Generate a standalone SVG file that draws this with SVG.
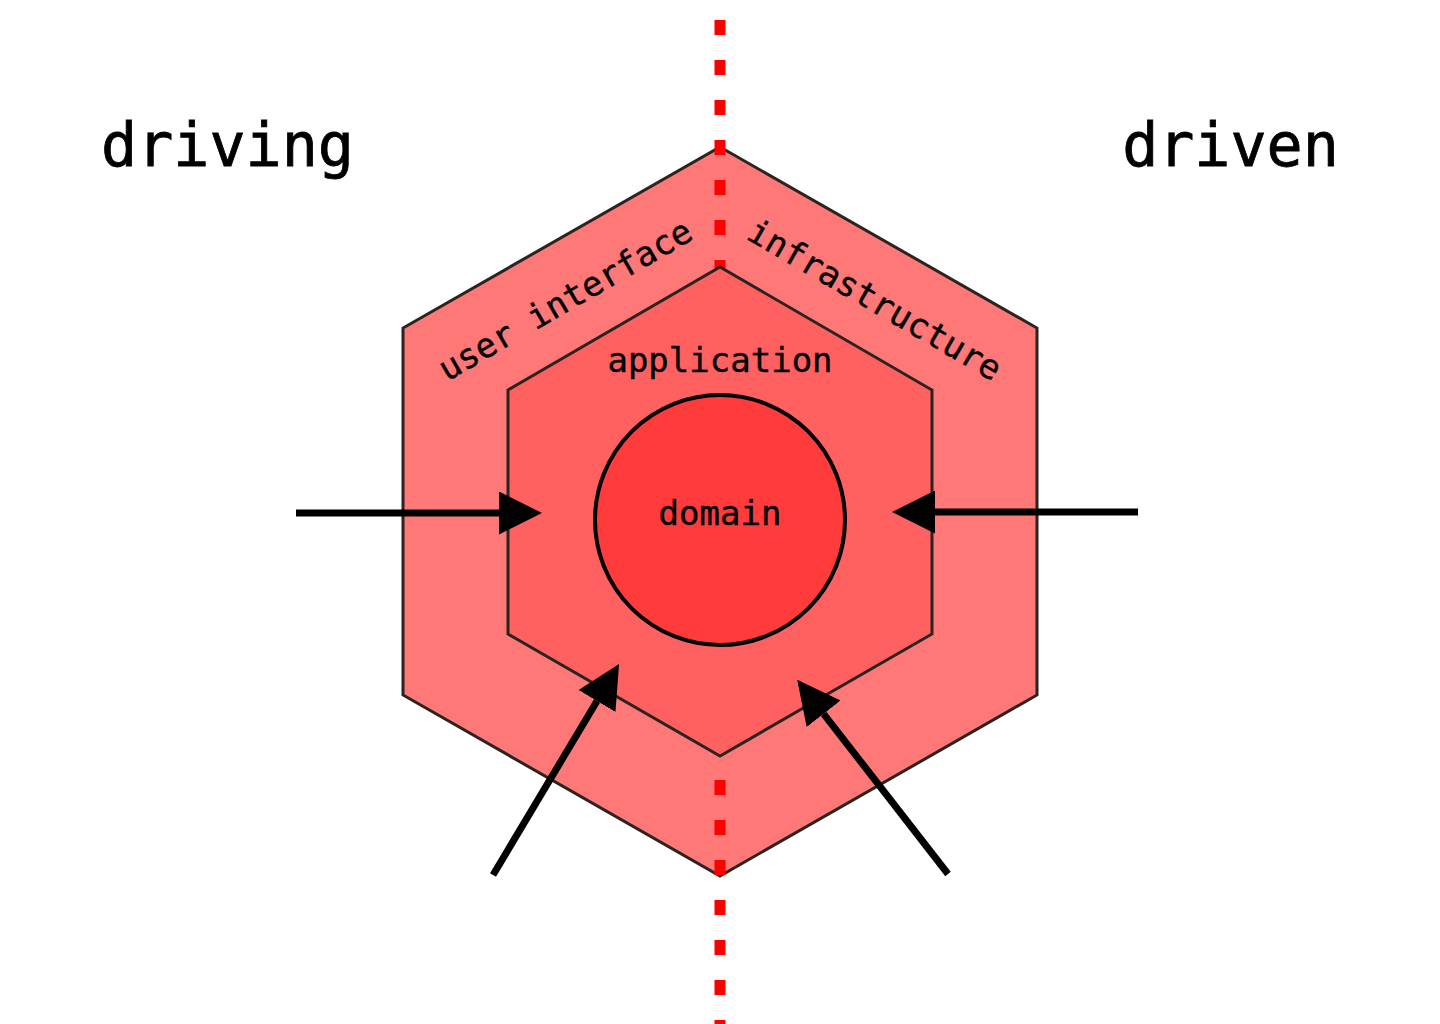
<svg xmlns="http://www.w3.org/2000/svg" width="1440" height="1024" viewBox="0 0 1440 1024">
  <defs>
    <style>
      .hex { stroke: #2b231f; stroke-width: 3; stroke-linejoin: miter; }
      .lbl { font-family: "DejaVu Sans Mono", "Liberation Mono", monospace; fill: #000; stroke: #000; stroke-width: 0.4; }
      .big { font-size: 60px; stroke-width: 0.8; }
      .mid { font-size: 34px; }
      .arrow { stroke: #000; stroke-width: 7; fill: none; stroke-linecap: butt; marker-end: url(#head); }
    </style>
    <marker id="head" viewBox="0 -21.5 43 43" markerWidth="43" markerHeight="43" refX="0" refY="0" markerUnits="userSpaceOnUse" orient="auto">
      <path d="M0,-21.5 L43,0 L0,21.5 Z" fill="#000"/>
    </marker>
  </defs>
  <rect width="1440" height="1024" fill="#fff"/>

  <g id="outer-hexagon">
    <polygon class="hex" fill="#ff7878" points="720,147 1037,328 1037,695 720,876 403,695 403,328"/>
    <text class="lbl mid" text-anchor="middle" transform="translate(571,310) rotate(-30)">user interface</text>
    <text class="lbl mid" text-anchor="middle" transform="translate(869,310) rotate(30)">infrastructure</text>
  </g>

  <g id="divider">
    <line x1="720" y1="20" x2="720" y2="1024" stroke="#ff0000" stroke-width="11" stroke-dasharray="15 25"/>
  </g>

  <g id="application-hexagon">
    <polygon class="hex" fill="#ff6161" points="720,267 932,390 932,634 720,756 508,634 508,390"/>
    <text class="lbl mid" x="720" y="372" text-anchor="middle">application</text>
  </g>

  <g id="domain">
    <circle cx="720" cy="520" r="125" fill="#ff3b3b" stroke="#000" stroke-width="4"/>
    <text class="lbl mid" x="720" y="525" text-anchor="middle">domain</text>
  </g>

  <g id="side-labels">
    <text class="lbl big" x="227.5" y="166" text-anchor="middle">driving</text>
    <text class="lbl big" x="1230.5" y="166" text-anchor="middle">driven</text>
  </g>

  <g id="connectors">
    <line class="arrow" x1="296" y1="513" x2="499" y2="513"/>
    <line class="arrow" x1="1138" y1="512" x2="935" y2="512"/>
    <line class="arrow" x1="493" y1="875" x2="597" y2="701"/>
    <line class="arrow" x1="948" y1="874" x2="823.6" y2="713.8"/>
  </g>
</svg>
